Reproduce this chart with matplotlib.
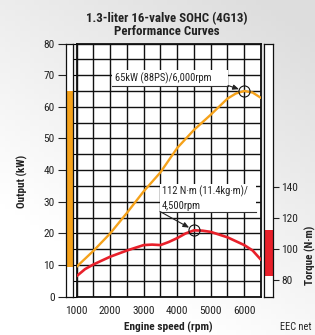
import numpy as np
import matplotlib
matplotlib.use("Agg")
import matplotlib.pyplot as plt
from matplotlib import font_manager
from matplotlib.patches import Rectangle

# ---------------- data ----------------
rpm_power = [1000, 1500, 2000, 2500, 3000, 3500, 4000, 4500, 5000, 5500, 5750, 6000, 6250, 6500]
power_kw = [9.5, 14.5, 20.0, 26.5, 33.3, 39.3, 47.0, 52.7, 57.5, 62.6, 64.2, 65.0, 64.5, 62.8]

rpm_torque = [1000, 1250, 1500, 2000, 2500, 3000, 3250, 3500, 3750, 4000, 4250, 4500, 4750, 5000, 5500, 6000, 6250, 6500]
torque_nm = [82.5, 87.0, 90.0, 95.0, 99.0, 102.5, 102.8, 102.5, 104.5, 107.0, 110.0, 112.0, 111.8, 111.0, 107.5, 102.5, 99.0, 93.0]

x_ticks = [1000, 2000, 3000, 4000, 5000, 6000]
power_ticks = [0, 10, 20, 30, 40, 50, 60, 70, 80]
torque_ticks = [80, 100, 120, 140]

title = "1.3-liter 16-valve SOHC (4G13)\nPerformance Curves"
power_note = "65kW (88PS)/6,000rpm"
torque_note = "112 N\u00b7m (11.4kg\u00b7m)/\n4,500rpm"

ORANGE = "#F5A21B"
RED = "#E8202A"
INK = "#111111"

# ---------------- fonts ----------------
avail = {f.name for f in font_manager.fontManager.ttflist}
fam = "DejaVu Sans"
for cand in ["Liberation Sans Narrow", "Roboto Condensed", "Liberation Sans"]:
    if cand in avail:
        fam = cand
        break
plt.rcParams["font.family"] = [fam, "DejaVu Sans"]

W, H = 315, 335
fig = plt.figure(figsize=(W / 100, H / 100), dpi=100)

# background gradient
bg = fig.add_axes([0, 0, 1, 1], zorder=-10)
gx, gy = np.meshgrid(np.linspace(0, 1, 64), np.linspace(1, 0, 64))
shade = 1.0 - 0.13 * np.clip(0.55 * gx + 0.9 * gy - 0.35, 0, 1)
bg.imshow(np.dstack([shade, shade, shade]), extent=[0, 1, 0, 1], aspect="auto")
bg.axis("off")

def fx(px):
    return px / W

def fy(py):
    return 1 - py / H

left, right, top, bottom = 76.7, 261.0, 43.5, 296.7
main_pos = [fx(left), fy(bottom), fx(right - left), (bottom - top) / H]

ax = fig.add_axes(main_pos)
ax.set_facecolor("white")
ax.set_xlim(1000, 6500)
ax.set_ylim(0, 80)
ax.set_xticks(x_ticks)
ax.set_xticks(np.arange(1500, 6501, 1000), minor=True)
ax.set_yticks(np.arange(0, 81, 5))
ax.grid(True, which="both", color=INK, lw=1.0)
ax.set_axisbelow(True)
ax.tick_params(axis="x", which="both", length=0, pad=7, labelsize=8.2, colors="#222")
ax.tick_params(axis="y", which="both", left=False, labelleft=False)
for s in ax.spines.values():
    s.set_linewidth(1.3)
    s.set_color(INK)

ax.plot(rpm_power, power_kw, color=ORANGE, lw=1.7, solid_joinstyle="round", solid_capstyle="round", zorder=3)

# torque axes overlay
t_lo, t_hi = 69.2, 232.5
axt = ax.twinx()
axt.set_ylim(t_lo, t_hi)
axt.set_yticks([])
for s in axt.spines.values():
    s.set_visible(False)
axt.plot(rpm_torque, torque_nm, color=RED, lw=1.9, solid_joinstyle="round", solid_capstyle="round", zorder=3)

# peak markers
ip = int(np.argmax(power_kw))
it = int(np.argmax(torque_nm))
ax.plot(rpm_power[ip], power_kw[ip], "o", mfc="none", mec=INK, ms=8, mew=0.8, zorder=5)
axt.plot(rpm_torque[it], torque_nm[it], "o", mfc="none", mec=INK, ms=8, mew=0.8, zorder=5)

def axf(px, py):
    return ((px - left) / (right - left), (bottom - py) / (bottom - top))

# power annotation
x0, y0 = axf(112, 85.5)
x1, y1 = axf(228, 70)
ax.add_patch(Rectangle((x0, y0), x1 - x0, y1 - y0, transform=ax.transAxes, facecolor="white", edgecolor="none", zorder=4))
tx, ty = axf(115, 78)
ax.text(tx, ty, power_note, transform=ax.transAxes, fontsize=7.6, color="#222", va="center", ha="left", zorder=5)
ax.plot([x0, x1], [y0, y0], transform=ax.transAxes, color="#333", lw=0.8, zorder=5)
ax.annotate("", xy=(rpm_power[ip], power_kw[ip]), xycoords="data", xytext=(x1, y0), textcoords="axes fraction",
            arrowprops=dict(arrowstyle="-|>,head_length=0.35,head_width=0.15", color="#222", lw=0.8, shrinkA=0, shrinkB=4), zorder=6)

# torque annotation
x0, y0 = axf(160, 211.5)
x1, y1 = axf(256, 184)
axt.add_patch(Rectangle((x0, y0), x1 - x0, y1 - y0, transform=axt.transAxes, facecolor="white", edgecolor="none", zorder=4))
tx, ty = axf(162, 198)
axt.text(tx, ty, torque_note, transform=axt.transAxes, fontsize=7.6, color="#222", va="center", ha="left",
         linespacing=1.45, zorder=5)
axt.plot([x0, x1], [y0, y0], transform=axt.transAxes, color="#333", lw=0.8, zorder=5)
axt.annotate("", xy=(rpm_torque[it], torque_nm[it]), xycoords="data", xytext=(x0, y0), textcoords="axes fraction",
             arrowprops=dict(arrowstyle="-|>,head_length=0.35,head_width=0.15", color="#222", lw=0.8, shrinkA=0, shrinkB=4), zorder=6)

# left output range bar
axl = fig.add_axes([fx(65.7), fy(bottom), fx(73.3 - 65.7), (bottom - top) / H])
axl.set_facecolor("white")
axl.set_xlim(0, 1)
axl.set_ylim(0, 80)
axl.bar([0.5], [max(power_kw) - min(power_kw)], bottom=min(power_kw), width=1.0, color=ORANGE)
axl.set_xticks([])
axl.set_yticks(power_ticks)
axl.tick_params(axis="y", length=6, width=0.8, pad=2, labelsize=8.2, colors="#222")
for s in axl.spines.values():
    s.set_linewidth(0.9)
    s.set_color(INK)

# right torque range bar
axr = fig.add_axes([fx(264.3), fy(bottom), fx(272.7 - 264.3), (bottom - top) / H])
axr.set_facecolor("white")
axr.set_xlim(0, 1)
axr.set_ylim(t_lo, t_hi)
axr.bar([0.5], [max(torque_nm) - min(torque_nm)], bottom=min(torque_nm), width=1.0, color=RED)
axr.set_xticks([])
axr.yaxis.tick_right()
axr.set_yticks(torque_ticks)
axr.tick_params(axis="y", length=4, width=0.8, pad=2, labelsize=8.2, colors="#222")
for s in axr.spines.values():
    s.set_linewidth(0.9)
    s.set_color(INK)

# texts
fig.text(fx(167), fy(25), title, ha="center", va="center", fontsize=9.3, fontweight="bold", color="#222", linespacing=1.0)
fig.text(fx(22), fy(181), "Output (kW)", rotation=90, ha="center", va="center", fontsize=8, fontweight="bold", color="#222")
fig.text(fx(310), fy(255), "Torque (N\u00b7m)", rotation=90, ha="center", va="center", fontsize=8, fontweight="bold", color="#222")
fig.text(fx(168), fy(327), "Engine speed (rpm)", ha="center", va="center", fontsize=8.2, fontweight="bold", color="#222")
fig.text(fx(280), fy(327), "EEC net", ha="left", va="center", fontsize=7.5, color="#222")

fig.savefig("out.png", dpi=100)
